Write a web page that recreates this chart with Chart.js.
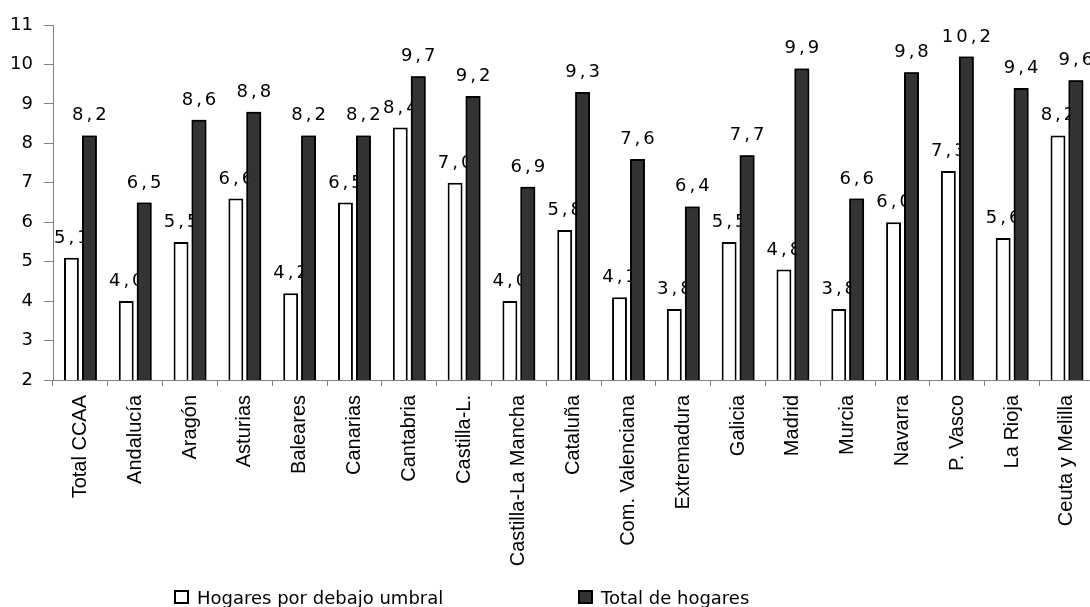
<!DOCTYPE html>
<html>
<head>
<meta charset="utf-8">
<script src="https://cdn.jsdelivr.net/npm/chart.js@4/dist/chart.umd.min.js"></script>
<style>
  html, body { margin: 0; padding: 0; background: #ffffff; overflow: hidden; }
  #wrap { width: 1100px; height: 607px; }
</style>
</head>
<body>
<div id="wrap"><canvas id="grafico" width="1100" height="607"></canvas></div>
<script>
// Comunidades autónomas (eje X)
const regiones = [
  'Total CCAA', 'Andalucía', 'Aragón', 'Asturias', 'Baleares', 'Canarias',
  'Cantabria', 'Castilla-L.', 'Castilla-La Mancha', 'Cataluña',
  'Com. Valenciana', 'Extremadura', 'Galicia', 'Madrid', 'Murcia',
  'Navarra', 'P. Vasco', 'La Rioja', 'Ceuta y Melilla'
];

// Hogares por debajo del umbral
const bajoUmbral = [5.1, 4.0, 5.5, 6.6, 4.2, 6.5, 8.4, 7.0, 4.0, 5.8, 4.1, 3.8, 5.5, 4.8, 3.8, 6.0, 7.3, 5.6, 8.2];

// Total de hogares
const totalHogares = [8.2, 6.5, 8.6, 8.8, 8.2, 8.2, 9.7, 9.2, 6.9, 9.3, 7.6, 6.4, 7.7, 9.9, 6.6, 9.8, 10.2, 9.4, 9.6];

const nombresSeries = ['Hogares por debajo umbral', 'Total de hogares'];

// Escala vertical
const yMin = 2;
const yMax = 11;
const yPaso = 1;

const formatoValor = v => v.toFixed(1).replace('.', ',');

// Etiquetas de valor sobre cada barra; las de la primera serie quedan bajo las barras oscuras
const etiquetasValor = {
  id: 'etiquetasValor',
  afterDatasetsDraw(chart) {
    const ctx = chart.ctx;
    const area = chart.chartArea;
    const pintar = (i) => {
      const meta = chart.getDatasetMeta(i);
      const datos = chart.data.datasets[i].data;
      ctx.save();
      ctx.font = '18px "DejaVu Sans"';
      ctx.letterSpacing = '3px';
      ctx.fillStyle = '#000000';
      ctx.textAlign = 'center';
      ctx.textBaseline = 'alphabetic';
      meta.data.forEach((barra, j) => {
        ctx.fillText(formatoValor(datos[j]), barra.x + 1.5, barra.y - 15);
      });
      ctx.restore();
    };
    pintar(0);
    // las barras oscuras se vuelven a dibujar encima de las etiquetas blancas
    ctx.save();
    ctx.beginPath();
    ctx.rect(area.left, area.top, area.right - area.left, area.bottom - area.top);
    ctx.clip();
    chart.getDatasetMeta(1).data.forEach(el => el.draw(ctx));
    ctx.restore();
    pintar(1);
  }
};

// Leyenda inferior
const leyenda = {
  id: 'leyendaInferior',
  afterDraw(chart) {
    const ctx = chart.ctx;
    const posiciones = [174, 578];
    const yCaja = 590;
    const lado = 15;
    ctx.save();
    chart.data.datasets.forEach((ds, i) => {
      const x = posiciones[i];
      ctx.fillStyle = ds.backgroundColor;
      ctx.fillRect(x, yCaja, lado, lado - 1);
      ctx.strokeStyle = '#000000';
      ctx.lineWidth = 2;
      ctx.strokeRect(x + 1, yCaja + 1, lado - 2, lado - 3);
      ctx.fillStyle = '#000000';
      ctx.font = '18px "DejaVu Sans"';
      ctx.textAlign = 'left';
      ctx.textBaseline = 'alphabetic';
      ctx.fillText(ds.label, x + lado + 8, yCaja + lado - 1);
    });
    ctx.restore();
  }
};

new Chart(document.getElementById('grafico'), {
  type: 'bar',
  data: {
    labels: regiones,
    datasets: [
      {
        label: nombresSeries[0],
        data: bajoUmbral,
        backgroundColor: '#ffffff',
        borderColor: '#000000',
        borderWidth: 2,
        borderSkipped: false
      },
      {
        label: nombresSeries[1],
        data: totalHogares,
        backgroundColor: '#333333',
        borderColor: '#000000',
        borderWidth: 2,
        borderSkipped: false
      }
    ]
  },
  options: {
    responsive: false,
    animation: false,
    devicePixelRatio: 1,
    categoryPercentage: 0.655,
    barPercentage: 0.83,
    layout: { padding: { top: 25, right: 2, left: 0, bottom: 0 } },
    plugins: {
      legend: { display: false },
      tooltip: { enabled: false }
    },
    scales: {
      x: {
        grid: {
          display: true,
          drawOnChartArea: false,
          drawTicks: true,
          tickLength: 6,
          color: '#808080',
          offset: true
        },
        border: { display: true, color: '#808080', width: 1 },
        ticks: {
          autoSkip: false,
          minRotation: 90,
          maxRotation: 90,
          padding: 9,
          color: '#000000',
          font: { family: '"Liberation Sans", Arial, sans-serif', size: 20 }
        },
        afterFit(scale) { scale.height = 227; }
      },
      y: {
        min: yMin,
        max: yMax,
        grid: {
          display: true,
          drawOnChartArea: false,
          drawTicks: true,
          tickLength: 9,
          color: '#808080'
        },
        border: { display: true, color: '#808080', width: 1 },
        ticks: {
          stepSize: yPaso,
          padding: 11,
          color: '#000000',
          font: { family: '"DejaVu Sans", sans-serif', size: 18 }
        },
        afterFit(scale) { scale.width = 53; }
      }
    }
  },
  plugins: [etiquetasValor, leyenda]
});
</script>
</body>
</html>
